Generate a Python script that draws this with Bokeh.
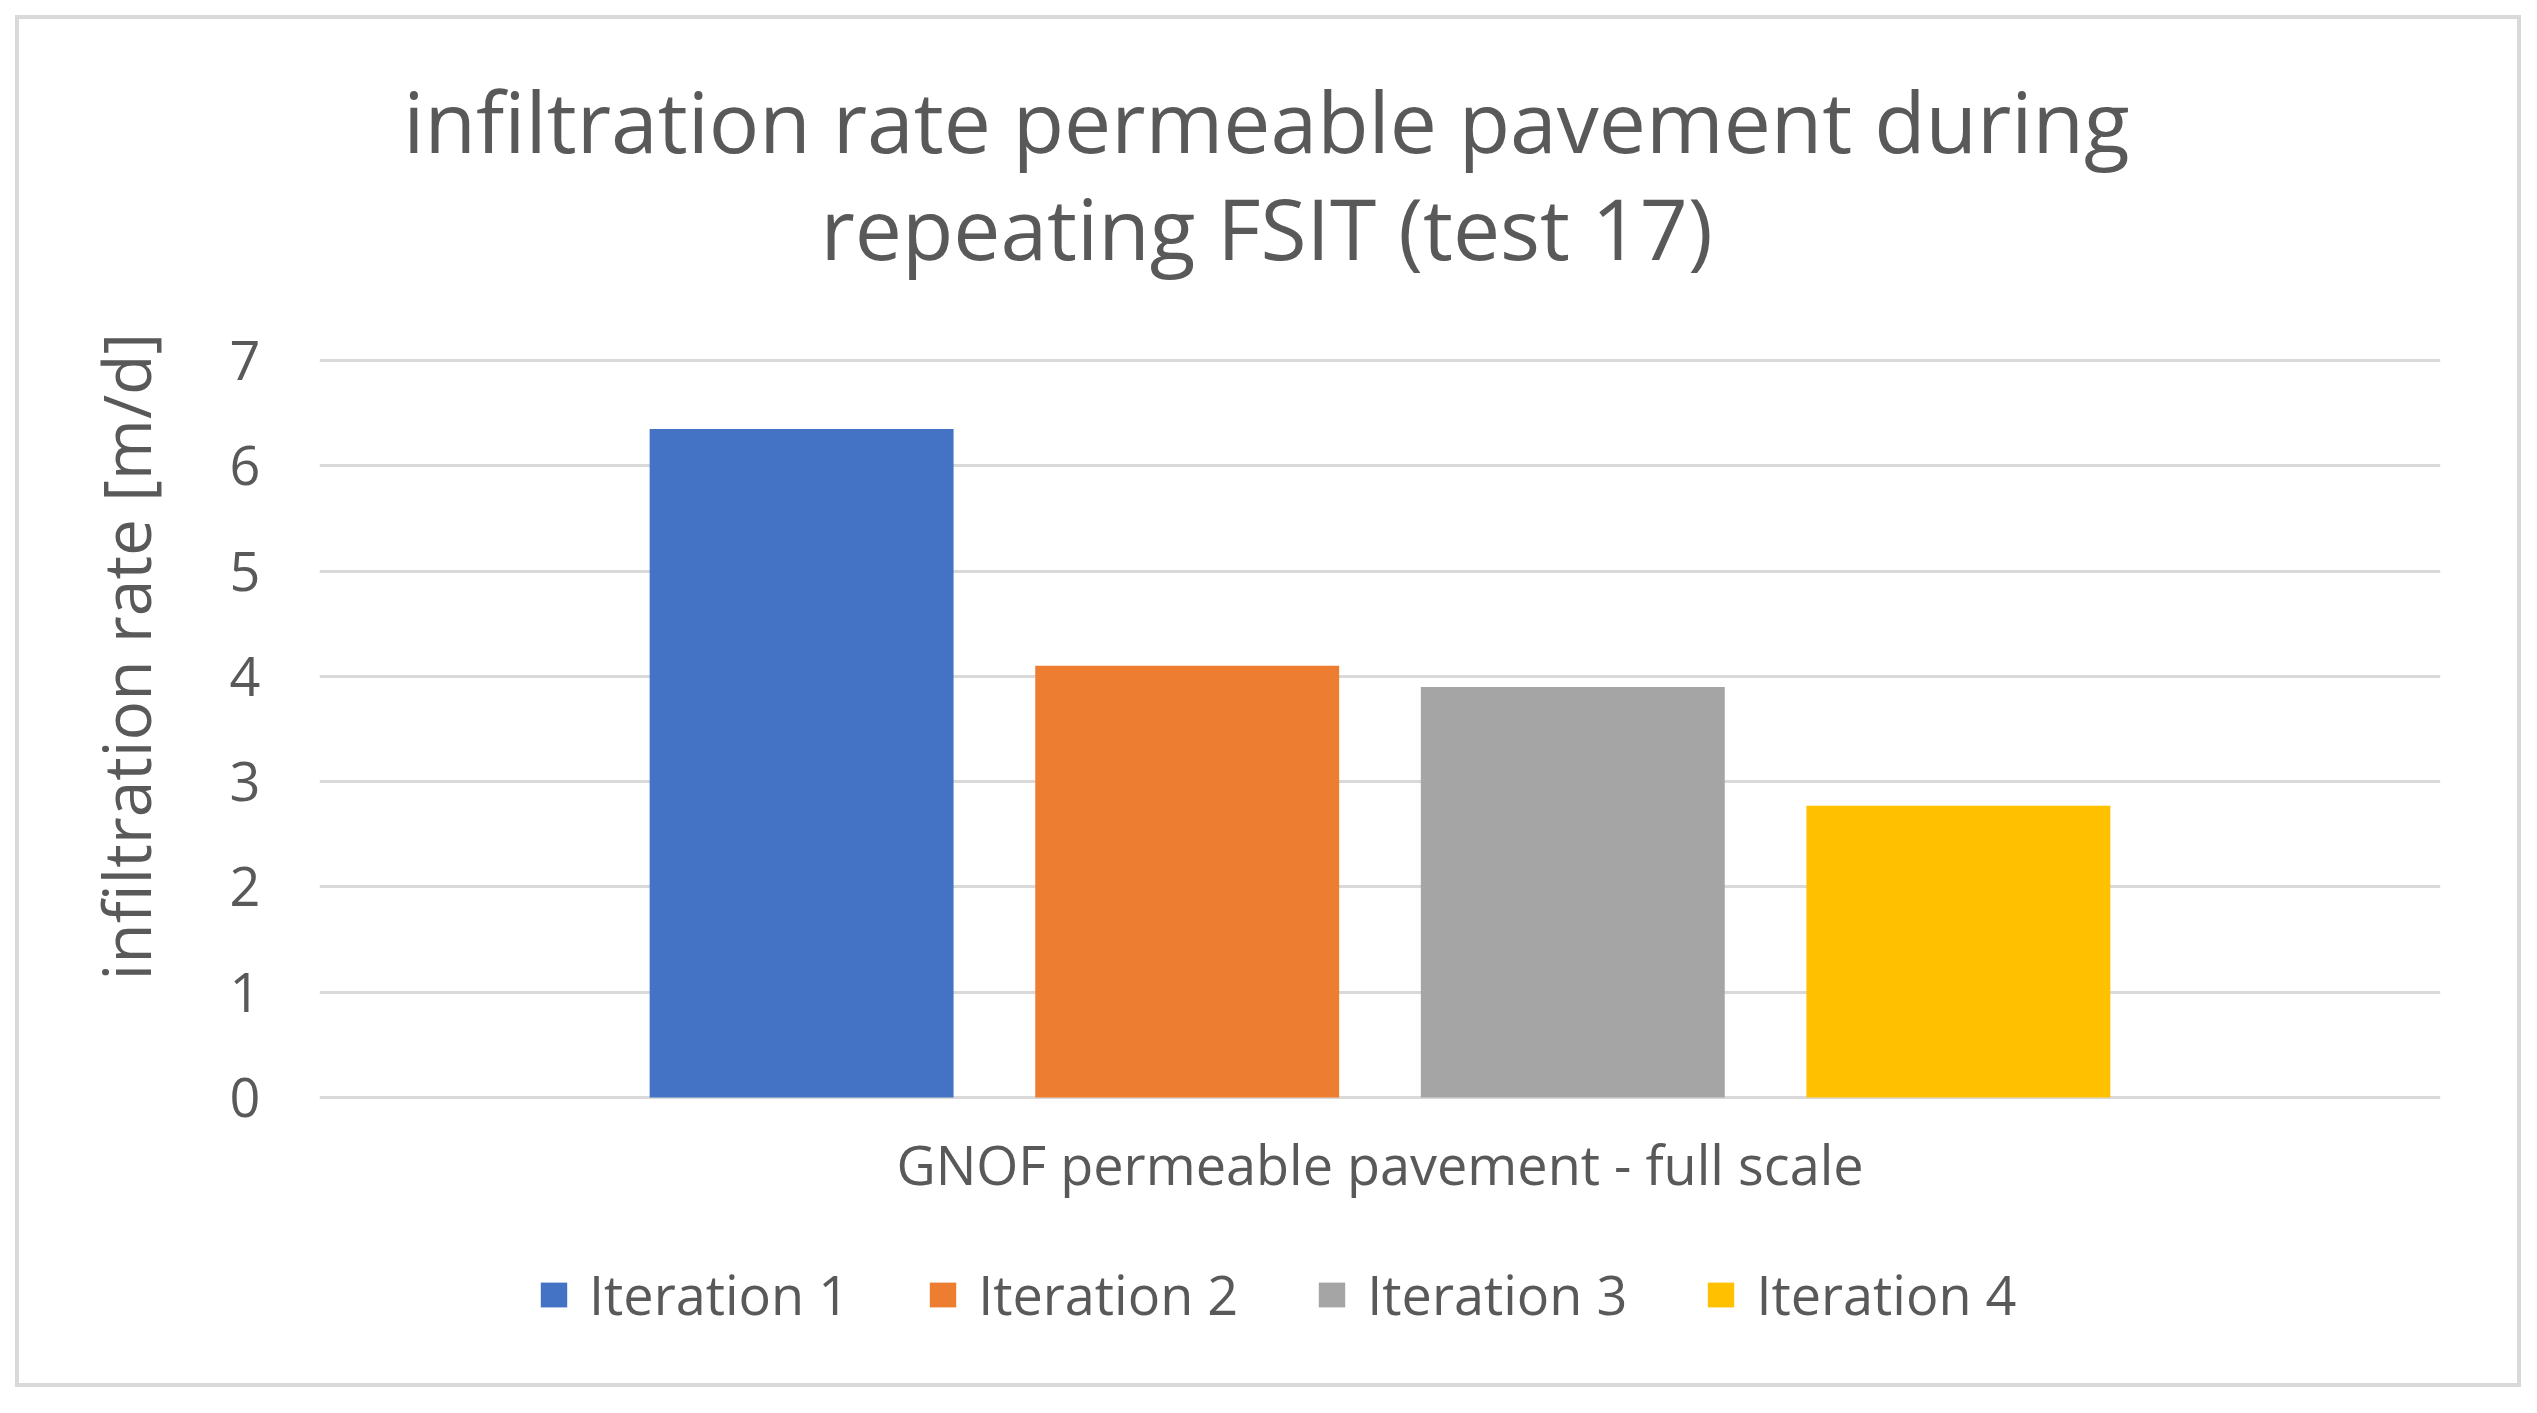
from bokeh.plotting import figure
from bokeh.models import ColumnDataSource, Label, Legend, LegendItem, FixedTicker, Title
from bokeh.transform import dodge
from bokeh.embed import file_html
from bokeh.resources import INLINE

# ---- data ----
categories = ["GNOF permeable pavement - full scale"]
series_names = ["Iteration 1", "Iteration 2", "Iteration 3", "Iteration 4"]
iteration_1 = [6.35]
iteration_2 = [4.10]
iteration_3 = [3.90]
iteration_4 = [2.77]
y_ticks = [0, 1, 2, 3, 4, 5, 6, 7]
title_lines = ["infiltration rate permeable pavement during", "repeating FSIT (test 17)"]
y_title = "infiltration rate [m/d]"

series_values = [iteration_1, iteration_2, iteration_3, iteration_4]
colors = ["#4472C4", "#ED7D31", "#A5A5A5", "#FFC000"]
FONT = "Open Sans"
TXT = "#595959"

source = ColumnDataSource(dict(cat=categories, **{f"s{i}": v for i, v in enumerate(series_values)}))

# the plot frame spans the whole chart area (title to legend); axis ticks stay 0..7
p = figure(
    x_range=categories, y_range=(-2.716, 10.210),
    width=2536, height=1402, title=None, x_axis_location=None,
    output_backend="svg", toolbar_location=None, tools="",
    min_border_left=319, min_border_right=96, min_border_top=22, min_border_bottom=19,
)
p.styles = {"outline": "4px solid #d9d9d9", "outline-offset": "-19px"}
p.x_range.range_padding = 0
p.outline_line_color = None
p.background_fill_color = None
p.border_fill_color = None

step = 0.1818
bar_w = 0.1433
renderers = []
for i, name in enumerate(series_names):
    r = p.vbar(x=dodge("cat", (i - 1.5) * step, range=p.x_range), top=f"s{i}", width=bar_w,
               source=source, fill_color=colors[i], line_color=None)
    renderers.append((name, r))

# grid and y axis
p.xgrid.grid_line_color = None
p.ygrid.grid_line_color = "#d9d9d9"
p.ygrid.grid_line_width = 3
p.ygrid.ticker = FixedTicker(ticks=y_ticks)
ax = p.yaxis[0]
ax.ticker = FixedTicker(ticks=y_ticks)
ax.axis_line_color = None
ax.major_tick_line_color = None
ax.minor_tick_line_color = None
ax.major_tick_in = 0
ax.major_tick_out = 0
ax.major_label_text_font = FONT
ax.major_label_text_color = TXT
ax.major_label_text_font_size = "54px"
ax.major_label_standoff = 59

# y axis title, starting where the reference's starts
p.add_layout(Title(text=y_title, align="left", offset=403, standoff=114,
                   text_font=FONT, text_font_size="66px", text_font_style="normal",
                   text_color=TXT), "left")

# category label under the bars (0.5 = centre of the single category)
p.add_layout(Label(x=0.5, y=-0.632, text=categories[0], text_font=FONT, text_font_size="54px",
                   text_color=TXT, text_align="center", text_baseline="alphabetic"))

# title lines
p.add_layout(Label(x=0.4465, y=9.279, text=title_lines[0], text_font=FONT, text_font_size="84px",
                   text_color=TXT, text_align="center", text_baseline="alphabetic"))
p.add_layout(Label(x=0.4465, y=8.263, text=title_lines[1], text_font=FONT, text_font_size="84px",
                   text_color=TXT, text_align="center", text_baseline="alphabetic"))

legend = Legend(items=[LegendItem(label=n, renderers=[r]) for n, r in renderers],
                orientation="horizontal", location=(218, 52),
                label_text_font=FONT, label_text_font_size="54px", label_text_color=TXT,
                glyph_width=33, glyph_height=31, label_standoff=19, spacing=77,
                padding=10, margin=0, border_line_color=None, background_fill_alpha=0)
p.add_layout(legend, "center")

open("out.html", "w").write(file_html(p, INLINE))
